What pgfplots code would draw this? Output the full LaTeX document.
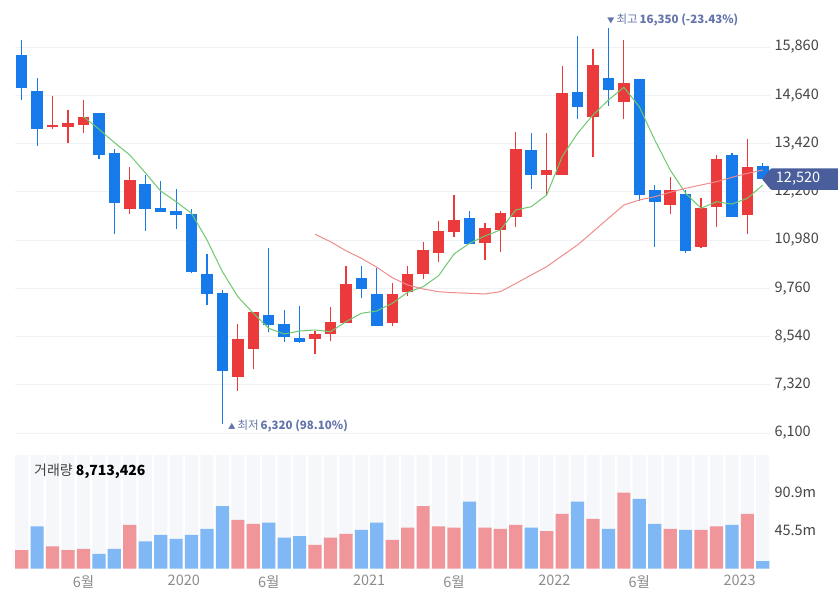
\documentclass[border=0pt]{standalone}
\usepackage{pgfplots}
\usepackage{pgfplotstable}
\pgfplotsset{compat=1.18}
\usepackage{fontspec}
\setmainfont{Noto Sans CJK KR}
\definecolor{cred}{RGB}{234,58,60}
\definecolor{cblue}{RGB}{23,122,234}
\definecolor{vred}{RGB}{240,150,155}
\definecolor{vblue}{RGB}{128,184,245}
\definecolor{maG}{RGB}{110,200,110}
\definecolor{maP}{RGB}{238,140,140}
\definecolor{annot}{RGB}{100,116,170}
\definecolor{tagblue}{RGB}{74,94,156}
\definecolor{gridc}{RGB}{240,241,245}
\definecolor{stripe}{RGB}{245,247,251}
\definecolor{ticktext}{RGB}{68,68,68}
\definecolor{xtext}{RGB}{140,140,140}

\pgfplotstableread{
i o h l c
2 13845 14621 13779 13880
3 13845 14267 13425 13946
4 13880 14520 13678 14098
7 11764 12818 11630 12490
14 7524 8856 7162 8477
15 8216 9167 7711 9167
19 8469 8679 8097 8603
20 8603 9286 8419 8914
21 8889 10323 8880 9867
24 8889 9885 8805 9615
25 9665 10323 9572 10120
26 10120 10922 9994 10727
27 10659 11468 10416 11200
28 11175 12118 11063 11486
30 10912 11402 10474 11276
31 11233 11713 10669 11655
32 11569 13718 11316 13281
34 12631 13678 12125 12742
35 12631 15380 12620 14697
37 14082 15817 13079 15397
39 14477 16037 14032 14950
42 11865 12565 11630 12237
44 10811 12050 10770 11781
45 11822 13129 11316 13028
47 11612 13541 11124 12833
}\redtab

\pgfplotstableread{
i o h l c
0 15658 16037 14520 14831
1 14740 15084 13357 13787
5 14184 14200 13020 13122
6 13172 13273 11124 11923
8 12396 12616 11215 11764
9 11781 12472 11680 11696
10 11721 12270 11266 11604
11 11637 11764 10150 10163
12 10120 10618 9336 9615
13 9632 9716 6320 7668
16 9084 10770 8646 8831
17 8856 9210 8401 8520
18 8502 9319 8383 8401
22 10019 10323 9506 9741
23 9615 10272 8800 8813
29 11529 11713 10870 10879
33 13248 13678 12277 12631
36 14730 16138 14032 14335
38 15076 16350 14376 14773
40 15043 15043 11966 12118
41 12237 12363 10811 11933
43 12143 12237 10659 10709
46 13129 13172 11560 11569
48 12859 12935 12520 12520
}\bluetab

\pgfplotstableread{
i v
0 21.9
2 26.6
3 21.9
4 23.5
7 52.2
14 58.2
15 53.4
19 28.3
20 37.0
21 41.5
24 34.3
25 49.0
26 74.5
27 50.5
28 49.0
30 49.0
31 47.4
32 52.2
34 44.6
35 65.4
37 59.4
39 90.8
42 47.4
44 46.2
45 50.5
47 65.4
}\vredtab

\pgfplotstableread{
i v
1 50.5
5 17.5
6 23.5
8 32.6
9 40.2
10 35.5
11 40.2
12 47.4
13 74.5
16 55.0
17 37.0
18 38.6
22 46.2
23 55.0
29 80.0
33 49.0
36 80.0
38 47.4
40 83.3
41 53.4
43 46.2
46 52.2
48 8.7
}\vbluetab

\pgfplotsset{
  candle/.style 2 args={only marks, mark=none, mark size=0pt, mark options={draw=none,fill=none},
    error bars/y dir=plus, error bars/y explicit, error bars/error mark=none,
    error bars/error bar style={draw=#1, line width=#2}},
}

\begin{document}
\begin{tikzpicture}
\path[use as bounding box] (0pt,0pt) rectangle (838pt,598pt);

% ---------------- price panel ----------------
\begin{axis}[
  at={(15pt,153pt)}, anchor=south west, scale only axis,
  width=755pt, height=445pt,
  xmin=-0.434, xmax=48.465, ymin=5796.6, ymax=17048.4,
  clip=false,
  axis line style={draw=none}, major tick length=0pt,
  xtick=\empty,
  ytick={6100,7320,8540,9760,10980,12200,13420,14640,15860},
  yticklabels={{6,100},{7,320},{8,540},{9,760},{10,980},{12,200},{13,420},{14,640},{15,860}},
  yticklabel pos=right,
  yticklabel style={font=\fontsize{14.5}{16}\selectfont, text=ticktext, xshift=1pt},
  ymajorgrids, grid style={gridc, line width=0.8pt},
  /pgf/number format/assume math mode=true,
]
% wicks
\addplot[candle={cred}{1.2pt}]
  table[x=i, y=l, y error plus expr={\thisrow{h}-\thisrow{l}}] {\redtab};
\addplot[candle={cblue}{1.2pt}]
  table[x=i, y=l, y error plus expr={\thisrow{h}-\thisrow{l}}] {\bluetab};
% bodies
\addplot[candle={cred}{11.5pt}]
  table[x=i, y expr={min(\thisrow{o},\thisrow{c})}, y error plus expr={max(abs(\thisrow{c}-\thisrow{o}),45)}] {\redtab};
\addplot[candle={cblue}{11.5pt}]
  table[x=i, y expr={min(\thisrow{o},\thisrow{c})}, y error plus expr={max(abs(\thisrow{c}-\thisrow{o}),45)}] {\bluetab};
% moving averages
\addplot[maG, line width=1pt, mark=none] coordinates {
(4,14098)(5,13782)(6,13445)(7,13129)(8,12682)(9,12219)(10,11948)(11,11655)(12,10980)
(13,10178)(14,9546)(15,9127)(16,8747)(17,8603)(18,8679)(19,8704)(20,8661)(21,8914)
(22,9127)(23,9185)(24,9379)(25,9658)(26,9799)(27,10077)(28,10626)(29,10897)(30,11081)
(31,11233)(32,11739)(33,11822)(34,12118)(35,13086)(36,13678)(37,14141)(38,14520)
(39,14841)(40,14350)(41,13509)(42,12750)(43,12161)(44,11782)(45,11948)(46,11890)
(47,12034)(48,12371)};
\addplot[maP, line width=1pt, mark=none] coordinates {
(19,11124)(20,10937)(21,10709)(22,10517)(23,10290)(24,10027)(25,9842)(26,9741)
(27,9673)(28,9647)(29,9632)(30,9615)(31,9673)(32,9880)(33,10095)(34,10305)(35,10583)
(36,10854)(37,11190)(38,11529)(39,11865)(40,11991)(41,12075)(42,12186)(43,12287)
(44,12371)(45,12454)(46,12565)(47,12666)(48,12750)};
% annotations
\node[anchor=west, font=\fontsize{11.5}{13}\selectfont, text=annot, inner sep=0pt, xshift=5.5pt, yshift=-2pt]
  at (axis cs:13,6320) {{\fontsize{7.5}{8}\selectfont ▲}\,최저\,\textbf{6,320 (98.10\%)}};
\node[anchor=west, font=\fontsize{11.5}{13}\selectfont, text=annot, inner sep=0pt, xshift=-1.5pt, yshift=7.6pt]
  at (axis cs:38,16350) {{\fontsize{7.5}{8}\selectfont ▼}\,최고\,\textbf{16,350 (-23.43\%)}};
% current price tag
\fill[tagblue, rounded corners=1pt] (axis cs:47.95,12520) -- ++(9pt,10.8pt) -- ++(71pt,0pt)
  -- ++(0pt,-21.6pt) -- ++(-71pt,0pt) -- cycle;
\node[text=white, font=\fontsize{14.5}{16}\selectfont, xshift=36pt] at (axis cs:47.95,12520) {12,520};
\end{axis}

% ---------------- volume panel ----------------
\begin{axis}[
  at={(15pt,29.5pt)}, anchor=south west, scale only axis,
  width=755pt, height=113.5pt,
  xmin=-0.434, xmax=48.465, ymin=0, ymax=135.8,
  clip=false,
  axis line style={draw=none}, major tick length=0pt,
  ytick={45.5,90.9}, yticklabels={45.5m,90.9m},
  yticklabel pos=right,
  yticklabel style={font=\fontsize{14.5}{16}\selectfont, text=ticktext, xshift=1pt},
  xtick={4,10.5,16,22.5,28,34.5,40,46.5},
  xticklabels={6월,2020,6월,2021,6월,2022,6월,2023},
  xticklabel style={font=\fontsize{14.5}{16}\selectfont, text=xtext, yshift=-3pt},
  /pgf/number format/assume math mode=true,
]
\addplot[ybar, bar width=13.2pt, bar shift=0pt, fill=stripe, draw=none] coordinates {
(0,135.8)(1,135.8)(2,135.8)(3,135.8)(4,135.8)(5,135.8)(6,135.8)(7,135.8)(8,135.8)(9,135.8)
(10,135.8)(11,135.8)(12,135.8)(13,135.8)(14,135.8)(15,135.8)(16,135.8)(17,135.8)(18,135.8)(19,135.8)
(20,135.8)(21,135.8)(22,135.8)(23,135.8)(24,135.8)(25,135.8)(26,135.8)(27,135.8)(28,135.8)(29,135.8)
(30,135.8)(31,135.8)(32,135.8)(33,135.8)(34,135.8)(35,135.8)(36,135.8)(37,135.8)(38,135.8)(39,135.8)
(40,135.8)(41,135.8)(42,135.8)(43,135.8)(44,135.8)(45,135.8)(46,135.8)(47,135.8)(48,135.8)};
\addplot[ybar, bar width=13.2pt, bar shift=0pt, fill=vred, draw=none] table[x=i,y=v] {\vredtab};
\addplot[ybar, bar width=13.2pt, bar shift=0pt, fill=vblue, draw=none] table[x=i,y=v] {\vbluetab};
\end{axis}

\node[anchor=west, font=\fontsize{14}{16}\selectfont, inner sep=0pt] at (34pt,127pt)
  {{\color{ticktext}거래량} \textbf{8,713,426}};
\end{tikzpicture}
\end{document}
